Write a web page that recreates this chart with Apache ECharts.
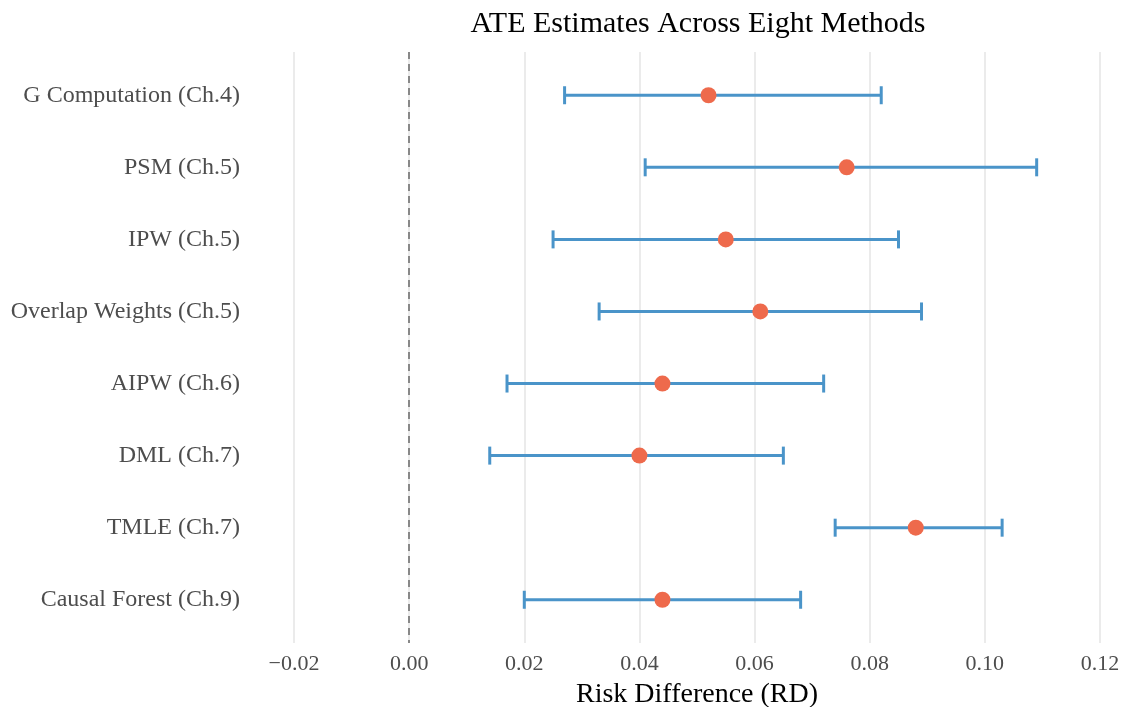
<!DOCTYPE html>
<html>
<head>
<meta charset="utf-8">
<script src="https://cdn.jsdelivr.net/npm/echarts@6/dist/echarts.min.js"></script>
<style>html,body{margin:0;padding:0;background:#fff}#c{width:1124px;height:707px}</style>
</head>
<body>
<div id="c"></div>
<script>
const methods = ["G Computation (Ch.4)","PSM (Ch.5)","IPW (Ch.5)","Overlap Weights (Ch.5)","AIPW (Ch.6)","DML (Ch.7)","TMLE (Ch.7)","Causal Forest (Ch.9)"];
const estimates = [0.052,0.076,0.055,0.061,0.044,0.040,0.088,0.044];
const lower = [0.027,0.041,0.025,0.033,0.017,0.014,0.074,0.020];
const upper = [0.082,0.109,0.085,0.089,0.072,0.065,0.103,0.068];
const xTicks = [-0.02,0.00,0.02,0.04,0.06,0.08,0.10,0.12];

const font = "'Liberation Serif','Times New Roman',serif";
const barColor = '#4A94C9';
const ptColor = '#EE6A4C';

const errData = methods.map((m,i)=>[lower[i], i+1, upper[i]]);
const ptData = methods.map((m,i)=>[estimates[i], i+1]);

const chart = echarts.init(document.getElementById('c'));
chart.setOption({
  animation:false,
  backgroundColor:'#fff',
  title:{text:'ATE Estimates Across Eight Methods', left:693, textAlign:'center', top:4,
    textStyle:{fontFamily:font, fontSize:30, fontWeight:'normal', color:'#000'}},
  grid:{left:294, right:24, top:52, bottom:64, outerBoundsMode:'none', containLabel:false},
  xAxis:{type:'value', min:xTicks[0], max:xTicks[xTicks.length-1], interval:0.02,
    name:'Risk Difference (RD)', nameLocation:'middle', nameGap:38,
    nameTextStyle:{fontFamily:font, fontSize:28, color:'#000'},
    axisLine:{show:false}, axisTick:{show:false},
    axisLabel:{fontFamily:font, fontSize:22, color:'#4D4D4D', margin:10,
      formatter:v=>v.toFixed(2).replace('-','\u2212')},
    splitLine:{show:true, lineStyle:{color:'#EBEBEB', width:2}}},
  yAxis:{type:'value', min:0.4, max:8.6, inverse:true,
    axisLine:{show:false}, axisTick:{show:false}, splitLine:{show:false},
    axisLabel:{customValues:methods.map((m,i)=>i+1), fontFamily:font, fontSize:24, color:'#4D4D4D', margin:54,
      formatter:v=>methods[Math.round(v)-1]||''}},
  series:[
    {type:'line', data:[], markLine:{silent:true, symbol:'none', label:{show:false},
      lineStyle:{color:'#888', type:[7,5], width:2}, data:[{xAxis:0}]}},
    {type:'custom', data:errData, encode:{x:[0,2], y:1},
      renderItem:(params, api)=>{
        const lo=api.value(0), y=api.value(1), hi=api.value(2);
        const a=api.coord([lo,y]), b=api.coord([hi,y]);
        const h=9, st={stroke:barColor, lineWidth:3};
        return {type:'group', children:[
          {type:'line', shape:{x1:a[0],y1:a[1],x2:b[0],y2:b[1]}, style:st},
          {type:'line', shape:{x1:a[0],y1:a[1]-h,x2:a[0],y2:a[1]+h}, style:st},
          {type:'line', shape:{x1:b[0],y1:b[1]-h,x2:b[0],y2:b[1]+h}, style:st}
        ]};
      }},
    {type:'scatter', data:ptData, symbolSize:16, itemStyle:{color:ptColor, opacity:1}, z:5}
  ]
});
</script>
</body>
</html>
